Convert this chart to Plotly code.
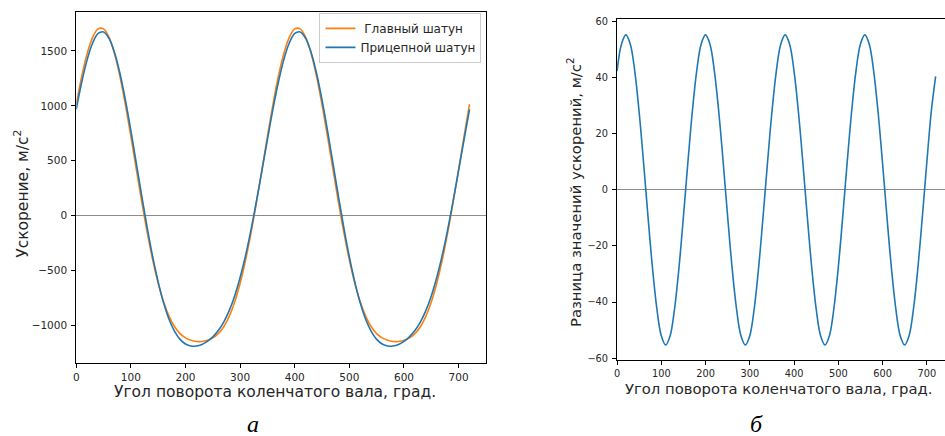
import plotly.graph_objects as go

# ---- data ----
angle = list(range(0, 721, 10))  # crank angle, degrees

main_rod = [1010, 1267, 1476, 1624, 1701, 1701, 1624, 1476, 1267, 1010, 722, 422,
            125, -154, -403, -614, -785, -916, -1010, -1073, -1112, -1134, -1144, -1144,
            -1134, -1112, -1073, -1010, -916, -785, -614, -403, -154, 125, 422, 722,
            1010, 1267, 1476, 1624, 1701, 1701, 1624, 1476, 1267, 1010, 722, 422,
            125, -154, -403, -614, -785, -916, -1010, -1073, -1112, -1134, -1144, -1144,
            -1134, -1112, -1073, -1010, -916, -785, -614, -403, -154, 125, 422, 722,
            1015]

trailer_rod = [968, 1215, 1421, 1572, 1659, 1673, 1614, 1486, 1295, 1052, 774, 477,
               177, -112, -375, -604, -795, -944, -1052, -1125, -1167, -1186, -1186, -1172,
               -1144, -1102, -1045, -968, -864, -730, -562, -361, -126, 135, 412, 694,
               968, 1215, 1421, 1572, 1659, 1673, 1614, 1486, 1295, 1052, 774, 477,
               177, -112, -375, -604, -795, -944, -1052, -1125, -1167, -1186, -1186, -1172,
               -1144, -1102, -1045, -968, -864, -730, -562, -361, -126, 135, 412, 694,
               968]

accel_diff = [42.4, 52.0, 55.3, 52.0, 42.4, 27.7, 9.6, -9.6, -27.7, -42.4, -52.0, -55.3,
              -52.0, -42.4, -27.7, -9.6, 9.6, 27.7,
              42.4, 52.0, 55.3, 52.0, 42.4, 27.7, 9.6, -9.6, -27.7, -42.4, -52.0, -55.3,
              -52.0, -42.4, -27.7, -9.6, 9.6, 27.7,
              42.4, 52.0, 55.3, 52.0, 42.4, 27.7, 9.6, -9.6, -27.7, -42.4, -52.0, -55.3,
              -52.0, -42.4, -27.7, -9.6, 9.6, 27.7,
              42.4, 52.0, 55.3, 52.0, 42.4, 27.7, 9.6, -9.6, -27.7, -42.4, -52.0, -55.3,
              -52.0, -42.4, -27.7, -9.6, 9.6, 27.7,
              40.5]

series_names = [" Главный шатун", "Прицепной шатун"]
x_ticks = [0, 100, 200, 300, 400, 500, 600, 700]
y_ticks_left = [-1000, -500, 0, 500, 1000, 1500]
y_ticks_right = [-60, -40, -20, 0, 20, 40, 60]

W, H = 945, 436
FONT = "DejaVu Sans"
TXT = "#262626"

fig = go.Figure()
fig.add_trace(go.Scatter(x=angle, y=main_rod, mode="lines", name=series_names[0],
                         line=dict(color="#ff7f0e", width=1.6, shape="spline"),
                         xaxis="x", yaxis="y"))
fig.add_trace(go.Scatter(x=angle, y=trailer_rod, mode="lines", name=series_names[1],
                         line=dict(color="#1f77b4", width=1.6, shape="spline"),
                         xaxis="x", yaxis="y"))
fig.add_trace(go.Scatter(x=angle, y=accel_diff, mode="lines", showlegend=False,
                         line=dict(color="#1f77b4", width=1.6, shape="spline"),
                         xaxis="x2", yaxis="y2"))

axis_common = dict(showgrid=False, showline=True, linecolor="black", linewidth=1,
                   ticks="outside", ticklen=4, tickwidth=1, tickcolor="black")

fig.update_layout(
    width=W, height=H,
    margin=dict(l=0, r=0, t=0, b=0),
    paper_bgcolor="white", plot_bgcolor="white",
    font=dict(family=FONT, color=TXT),
    hovermode=False,
    xaxis=dict(domain=[73.5 / W, 485 / W], range=[0, 751], anchor="y",
               tickvals=x_ticks, mirror=True, zeroline=False,
               tickfont=dict(size=10.5, color=TXT), **axis_common),
    yaxis=dict(domain=[(H - 365) / H, (H - 9.5) / H], range=[-1340, 1851], anchor="x",
               tickvals=y_ticks_left, mirror=True, zeroline=True,
               zerolinecolor="#8c8c8c", zerolinewidth=1, ticklabelstandoff=2,
               tickfont=dict(size=10.5, color=TXT), **axis_common),
    xaxis2=dict(domain=[616 / W, 1.0], range=[0, 741.2], anchor="y2",
                tickvals=x_ticks, mirror=True, zeroline=False,
                tickfont=dict(size=9.8, color=TXT), **axis_common),
    yaxis2=dict(domain=[(H - 362.3) / H, (H - 16.7) / H], range=[-60.8, 60.8], anchor="x2",
                tickvals=y_ticks_right, mirror=False, zeroline=True,
                zerolinecolor="#8c8c8c", zerolinewidth=1, ticklabelstandoff=2,
                tickfont=dict(size=9.8, color=TXT), **axis_common),
    legend=dict(x=480 / W, xanchor="right", y=(H - 10) / H, yanchor="top",
                bgcolor="rgba(255,255,255,0.85)", bordercolor="#cccccc", borderwidth=1,
                font=dict(size=12, family=FONT, color=TXT)),
)

annotations = [
    dict(text="Угол поворота коленчатого вала, град.", x=272.5 / W, y=(H - 394) / H,
         font=dict(size=15.5)),
    dict(text="Угол поворота коленчатого вала, град.", x=777.5 / W, y=(H - 391) / H,
         font=dict(size=14.8)),
    dict(text="Ускорение, м/с<sup>2</sup>", x=18.5 / W, y=(H - 193) / H, textangle=-90,
         font=dict(size=15.5)),
    dict(text="Разница значений ускорений, м/с<sup>2</sup>", x=572.5 / W, y=(H - 192) / H,
         textangle=-90, font=dict(size=14.8)),
    dict(text="<i>а</i>", x=250.5 / W, y=(H - 427) / H,
         font=dict(size=24, family="Liberation Serif", color="black")),
    dict(text="<i>б</i>", x=756 / W, y=(H - 427) / H,
         font=dict(size=24, family="Liberation Serif", color="black")),
]
for a in annotations:
    a.update(xref="paper", yref="paper", showarrow=False, xanchor="center", yanchor="middle")
    a["font"].setdefault("family", FONT)
    a["font"].setdefault("color", TXT)
fig.update_layout(annotations=annotations)

fig.write_html("out.html")
